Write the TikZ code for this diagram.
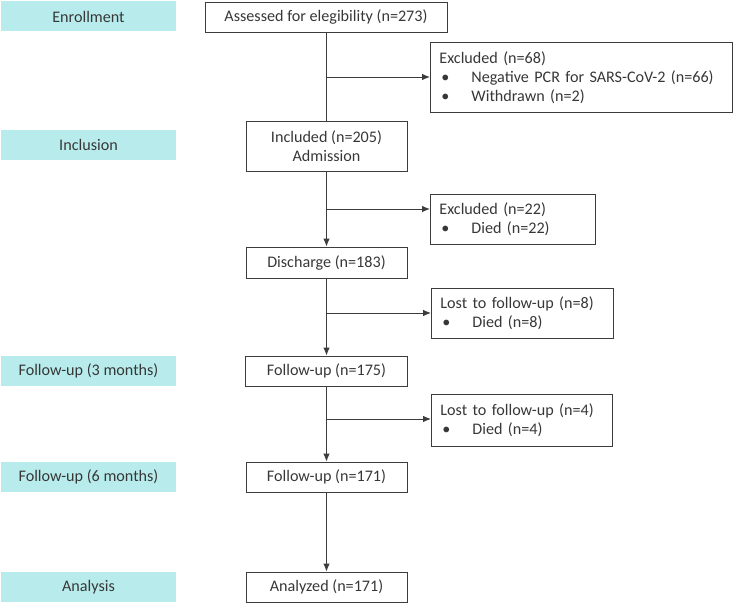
\documentclass[tikz,border=0pt]{standalone}
\usepackage{fontspec}
\setmainfont{Carlito}
\usetikzlibrary{arrows.meta}
\definecolor{labfill}{RGB}{184,236,236}
\definecolor{linec}{RGB}{60,60,60}
\definecolor{textc}{RGB}{55,55,55}
\begin{document}
\begin{tikzpicture}[x=1bp,y=-1bp,
  every node/.style={font=\fontsize{16.2}{19.3}\selectfont, text=textc},
  lab/.style={fill=labfill, minimum width=175bp, minimum height=30bp, inner sep=0pt},
  mbox/.style={draw=linec, line width=0.9bp, minimum height=30bp, inner sep=0pt, align=center},
  sbox/.style={draw=linec, line width=0.9bp, anchor=north west, inner xsep=9bp, inner ysep=0pt, align=left},
  conn/.style={draw=linec, line width=0.9bp},
  arr/.style={conn, -{Latex[length=8bp,width=6.5bp]}}
]
\useasboundingbox (0,0) rectangle (733,605);
% stage labels
\node[lab] (l1) at (88.5,16.5) {Enrollment};
\node[lab] (l2) at (88.5,145) {Inclusion};
\node[lab] (l3) at (88.5,371) {Follow-up (3 months)};
\node[lab] (l4) at (88.5,477) {Follow-up (6 months)};
\node[lab] (l5) at (88.5,587) {Analysis};
% main boxes
\node[mbox, minimum width=242bp] (assessed) at (326,17) {Assessed for elegibility (n=273)};
\node[mbox, minimum width=161bp, minimum height=50bp] (incl) at (326.5,146) {Included (n=205)\\Admission};
\node[mbox, minimum width=161bp, minimum height=31bp] (disc) at (326.5,262.5) {Discharge (n=183)};
\node[mbox, minimum width=162bp] (fu1) at (326.5,371) {Follow-up (n=175)};
\node[mbox, minimum width=161bp] (fu2) at (326.5,477) {Follow-up (n=171)};
\node[mbox, minimum width=161bp] (anal) at (326.5,587) {Analyzed (n=171)};
% side boxes
\node[sbox, text width=284bp, minimum height=70bp] (ex1) at (430,42)
  {Excluded (n=68)\\\makebox[32bp][l]{\hspace{2bp}•}Negative PCR for SARS-CoV-2 (n=66)\\\makebox[32bp][l]{\hspace{2bp}•}Withdrawn (n=2)};
\node[sbox, text width=147bp, minimum height=50bp] (ex2) at (430,194)
  {Excluded (n=22)\\\makebox[32bp][l]{\hspace{2bp}•}Died (n=22)};
\node[sbox, text width=164bp, minimum height=50bp] (lost1) at (431,288)
  {Lost to follow-up (n=8)\\\makebox[32bp][l]{\hspace{2bp}•}Died (n=8)};
\node[sbox, text width=163bp, minimum height=52bp] (lost2) at (431,394)
  {Lost to follow-up (n=4)\\\makebox[32bp][l]{\hspace{2bp}•}Died (n=4)};
% branch points
\coordinate (b1) at (326,77);
\coordinate (b2) at (326,209);
\coordinate (b3) at (326,313);
\coordinate (b4) at (326,419);
% trunk
\draw[conn] (incl.north |- assessed.south) -- (incl.north);
\draw[arr] (incl.south) -- (disc.north);
\draw[arr] (disc.south) -- (fu1.north);
\draw[arr] (fu1.south) -- (fu2.north);
\draw[arr] (fu2.south) -- (anal.north);
% branches
\draw[arr] (b1) -- (b1 -| ex1.west);
\draw[arr] (b2) -- (b2 -| ex2.west);
\draw[arr] (b3) -- (b3 -| lost1.west);
\draw[arr] (b4) -- (b4 -| lost2.west);
\end{tikzpicture}
\end{document}
